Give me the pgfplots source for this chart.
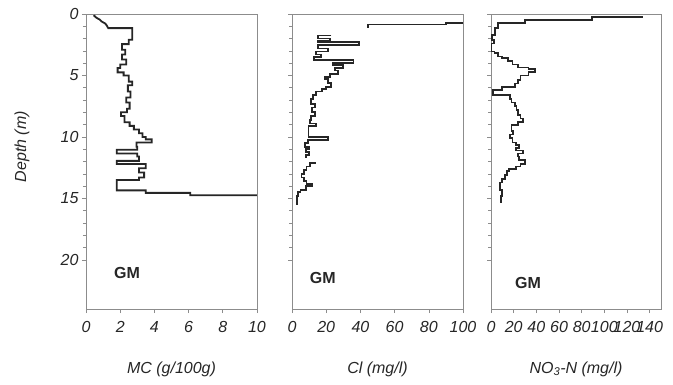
\documentclass[border=0pt]{standalone}
\usepackage{pgfplots}
\pgfplotsset{compat=1.18}
\usepackage{fontspec}
\setmainfont{Liberation Sans}
\definecolor{framegray}{RGB}{140,140,140}
\begin{document}
\begin{tikzpicture}
\path[use as bounding box] (0pt,0pt) rectangle (673pt,-384pt);
\pgfplotsset{
  panel/.style={
    scale only axis, height=295pt,
    y dir=reverse, ymin=0, ymax=24,
    axis line style={framegray, line width=0.8pt},
    tick style={framegray, line width=0.6pt},
    major tick length=4pt, minor tick length=3pt,
    tick align=outside, xtick pos=bottom, ytick pos=left,
    ytick={0,5,10,15,20}, minor y tick num=4,
    /pgf/number format/assume math mode=true,
    ticklabel style={font=\itshape\fontsize{16}{16}\selectfont, text=black!85},
    xticklabel style={yshift=-5pt},
    label style={font=\itshape\fontsize{16}{16}\selectfont, text=black!85},
    xlabel style={yshift=-22pt},
    anchor=north west,
  },
  prof/.style={black!85, line width=1.8pt, line join=miter, mark=none},
}
% Panel 1: MC
\begin{axis}[panel, at={(86pt,-14pt)}, width=171pt, xmin=0, xmax=10, xtick={0,2,...,10},
  xlabel={MC (g/100g)}, ylabel={Depth (m)},
  ylabel style={at={(axis description cs:-0.375,0.55)}, anchor=center}]
\addplot[prof] coordinates {
(0.45,0.1) (0.6,0.3) (0.8,0.45) (0.9,0.6) (1.1,0.75) (1.2,0.9) (1.3,1.15) (2.7,1.15)
(2.7,2.1) (2.5,2.1) (2.5,2.45) (2.1,2.45) (2.1,2.9) (2.3,2.9) (2.3,3.3) (2.1,3.3)
(2.1,3.7) (2.35,3.7) (2.35,4.1) (2.0,4.1) (2.0,4.4) (1.85,4.4) (1.85,4.75) (2.2,4.75)
(2.2,5.0) (2.5,5.0) (2.5,5.5) (2.7,5.5) (2.7,5.8) (2.45,5.8) (2.45,6.3) (2.6,6.3)
(2.6,6.8) (2.35,6.8) (2.35,7.2) (2.55,7.2) (2.55,7.7) (2.4,7.7) (2.4,8.0) (2.05,8.0)
(2.05,8.3) (2.25,8.3) (2.25,8.8) (2.55,8.8) (2.55,9.1) (2.8,9.1) (2.8,9.4) (3.1,9.4)
(3.1,9.7) (3.3,9.7) (3.3,10.0) (3.5,10.0) (3.5,10.2) (3.85,10.2) (3.85,10.45) (2.95,10.45)
(2.95,10.8) (3.0,10.8) (3.0,11.05) (1.8,11.05) (1.8,11.35) (3.0,11.35) (3.0,11.6) (3.1,11.6)
(3.1,11.95) (1.8,11.95) (1.8,12.2) (3.5,12.2) (3.5,12.55) (3.1,12.55) (3.1,12.9) (3.4,12.9)
(3.4,13.3) (3.1,13.3) (3.1,13.5) (1.8,13.5) (1.8,14.35) (3.5,14.35) (3.5,14.55) (6.1,14.55)
(6.1,14.75) (10,14.75)
};
\node[font=\bfseries\fontsize{16}{16}\selectfont, text=black!85] at (axis cs:2.4,21.1) {GM};
\end{axis}
% Panel 2: Cl
\begin{axis}[panel, at={(292pt,-14pt)}, width=171pt, xmin=0, xmax=100, xtick={0,20,...,100},
  yticklabels={}, xlabel={Cl (mg/l)}]
\addplot[prof] coordinates {
(44.5,1.1) (44.5,0.85) (90,0.85) (90,0.7) (100,0.7)
};
\addplot[prof] coordinates {
(23,1.75) (15,1.75) (15,2.0) (22,2.0) (22,2.15) (15,2.15) (15,2.3) (39,2.3)
(39,2.5) (15,2.5) (15,2.8) (21,2.8) (21,3.05) (14,3.05) (14,3.3) (17,3.3)
(17,3.5) (13,3.5) (13,3.75) (36,3.75) (36,4.0) (24,4.0) (24,4.15) (30,4.15)
(30,4.4) (25,4.4) (25,4.6) (27,4.6) (27,4.85) (22,4.85) (22,5.1) (19.5,5.1)
(19.5,5.3) (21,5.3) (21,5.6) (23,5.6) (23,5.95) (20,5.95) (20,6.1) (17.5,6.1)
(17.5,6.3) (14,6.3) (14,6.6) (12.5,6.6) (12.5,6.9) (11,6.9) (11,7.3) (13.5,7.3)
(13.5,7.6) (11.5,7.6) (11.5,8.0) (13.5,8.0) (13.5,8.3) (11,8.3) (11,8.6) (10.5,8.6)
(10.5,8.9) (14,8.9) (14,9.1) (9.6,9.1) (9.6,10.0) (21,10.0) (21,10.25) (9.5,10.25)
(9.5,10.5) (7.5,10.5) (7.5,10.8) (10,10.8) (10,11.0) (8,11.0) (8,11.2) (10,11.2)
(10,11.5) (8,11.5) (8,11.7)
};
\addplot[prof] coordinates {
(14,12.1) (10.5,12.1) (10.5,12.4) (8.5,12.4) (8.5,12.7) (7,12.7) (7,13.0) (5.5,13.0)
(5.5,13.3) (7,13.3) (7,13.6) (8.5,13.6) (8.5,13.8) (12,13.8) (12,14.0) (8,14.0)
(8,14.3) (5,14.3) (5,14.5) (3.5,14.5) (3.5,14.8) (2.8,14.8) (2.8,15.5)
};
\node[font=\bfseries\fontsize{16}{16}\selectfont, text=black!85] at (axis cs:18,21.5) {GM};
\end{axis}
% Panel 3: NO3-N
\begin{axis}[panel, at={(491pt,-14pt)}, width=170pt, xmin=0, xmax=150, xtick={0,20,...,140},
  yticklabels={}, xlabel={NO\textsubscript{3}-N (mg/l)}]
\addplot[prof] coordinates {
(134,0.25) (89,0.25) (89,0.5) (30,0.5) (30,0.7) (6.5,0.7) (6.5,1.15) (3.5,1.15)
(3.5,1.7) (1,1.7) (1,2.1) (2.5,2.1) (2.5,2.4) (0.5,2.4) (0.5,3.05) (3,3.05)
(3,3.2) (6.5,3.2) (6.5,3.45) (10,3.45) (10,3.6) (15,3.6) (15,3.85) (19,3.85)
(19,4.1) (24,4.1) (24,4.35) (33,4.35) (33,4.5) (39,4.5) (39,4.75) (33,4.75)
(33,5.0) (26,5.0) (26,5.4) (24,5.4) (24,5.65) (21,5.65) (21,5.95) (9.5,5.95)
(9.5,6.2) (2,6.2) (2,6.6) (16.5,6.6) (16.5,6.9) (18,6.9) (18,7.2) (21,7.2)
(21,7.5) (22.5,7.5) (22.5,7.8) (24,7.8) (24,8.2) (26,8.2) (26,8.5) (28.5,8.5)
(28.5,8.8) (24,8.8) (24,9.05) (18,9.05) (18,9.5) (19.5,9.5) (19.5,9.8) (17,9.8)
(17,10.1) (19,10.1) (19,10.45) (22,10.45) (22,10.65) (25,10.65) (25,10.9) (22,10.9)
(22,11.1) (28,11.1) (28,11.35) (24,11.35) (24,11.6) (25,11.6) (25,11.9) (30,11.9)
(30,12.2) (26,12.2) (26,12.4) (22,12.4) (22,12.6) (16,12.6) (16,12.8) (14,12.8)
(14,13.1) (12,13.1) (12,13.4) (9.5,13.4) (9.5,13.7) (8,13.7) (8,14.3) (9.5,14.3)
(9.5,14.8) (8.5,14.8) (8.5,15.4)
};
\node[font=\bfseries\fontsize{16}{16}\selectfont, text=black!85] at (axis cs:32.7,21.9) {GM};
\end{axis}
\end{tikzpicture}
\end{document}
